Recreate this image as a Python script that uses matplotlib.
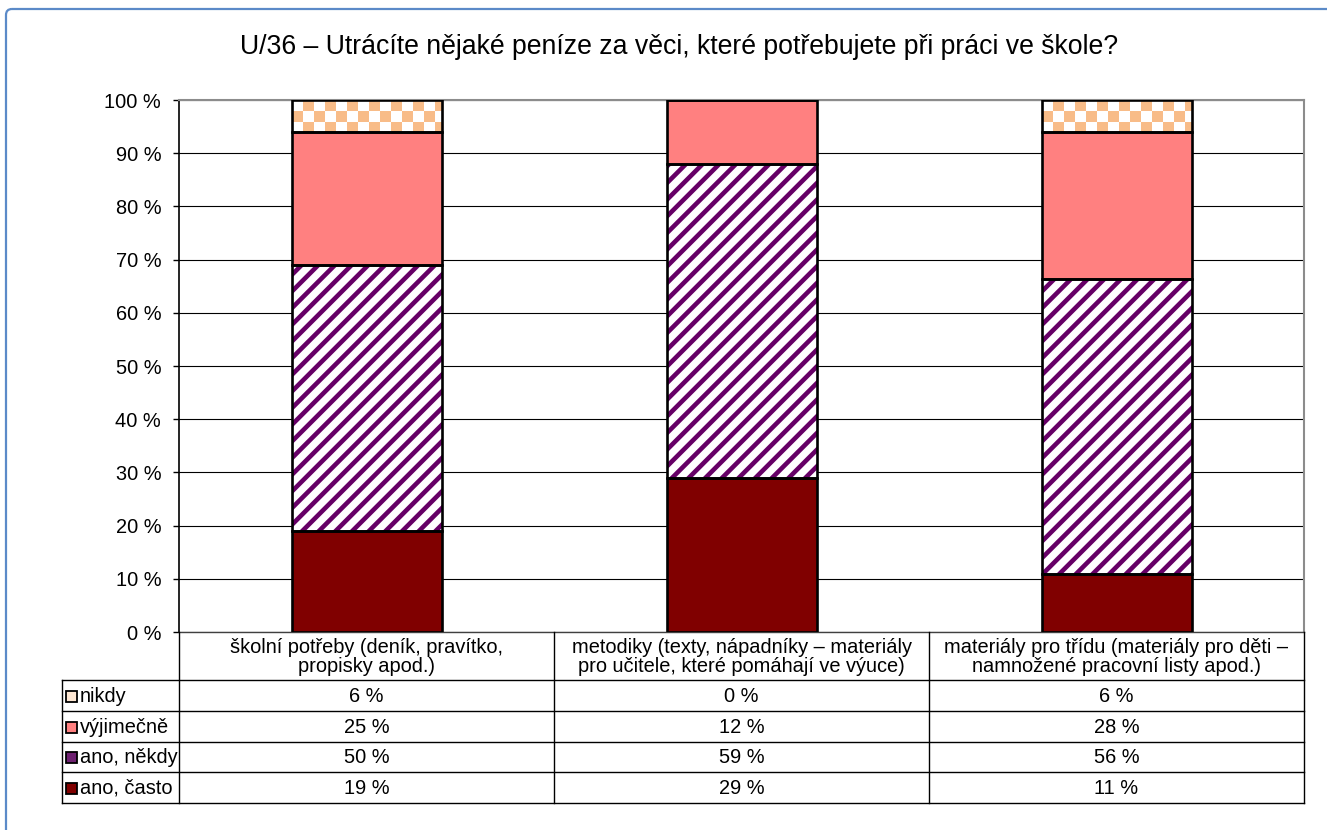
import numpy as np
import matplotlib
matplotlib.use("Agg")
import matplotlib.pyplot as plt
from matplotlib.patches import Rectangle, FancyBboxPatch
from matplotlib.lines import Line2D

plt.rcParams['font.family'] = ['Liberation Sans', 'DejaVu Sans']
plt.rcParams['hatch.linewidth'] = 3.3

# ---- data -------------------------------------------------------------
title = "U/36 – Utrácíte nějaké peníze za věci, které potřebujete při práci ve škole?"
categories = [
    "školní potřeby (deník, pravítko,\npropisky apod.)",
    "metodiky (texty, nápadníky – materiály\npro učitele, které pomáhají ve výuce)",
    "materiály pro třídu (materiály pro děti –\nnamnožené pracovní listy apod.)",
]
series_names = ["ano, často", "ano, někdy", "výjimečně", "nikdy"]
ano_casto = [19, 29, 11]
ano_nekdy = [50, 59, 56]
vyjimecne = [25, 12, 28]
nikdy = [6, 0, 6]
ytick_values = list(range(0, 101, 10))

# ---- layout (pixels) --------------------------------------------------
W, H = 1327, 830
PLOT_L, PLOT_R, PLOT_T, PLOT_B = 179, 1304, 100, 632
HEADER_B = 680
ROW_EDGES = [680, 711, 742, 772, 803]
LEGEND_L = 62
FS = 14.4

DARK_RED = "#800000"
PURPLE = "#660066"
SALMON = "#FF8080"
CHECK = "#F8BC88"

series_values = [ano_casto, ano_nekdy, vyjimecne, nikdy]
vals = np.array(series_values, dtype=float)
pct = vals / vals.sum(axis=0) * 100.0          # 100 % stacked
bottoms = np.vstack([np.zeros(pct.shape[1]), np.cumsum(pct, axis=0)[:-1]])

fig = plt.figure(figsize=(W / 100, H / 100), dpi=100)
fig.patch.set_facecolor("white")

ax = fig.add_axes([PLOT_L / W, 1 - PLOT_B / H, (PLOT_R - PLOT_L) / W, (PLOT_B - PLOT_T) / H])
x = np.arange(len(categories))
bw = 0.4

# fills
ax.bar(x, pct[0], bw, bottom=bottoms[0], color=DARK_RED, linewidth=0, zorder=1)
ax.bar(x, pct[1], bw, bottom=bottoms[1], facecolor="white", edgecolor=PURPLE,
       hatch="//", linewidth=0, zorder=1)
ax.bar(x, pct[2], bw, bottom=bottoms[2], color=SALMON, linewidth=0, zorder=1)
top_bars = ax.bar(x, pct[3], bw, bottom=bottoms[3], color="white", linewidth=0, zorder=1)

ax.set_xlim(-0.5, len(categories) - 0.5)
ax.set_ylim(0, 100)

# checkerboard fill for the "nikdy" segments
sq = 11.0
rgb_a = np.array(matplotlib.colors.to_rgb(CHECK))
rgb_b = np.array([1.0, 1.0, 1.0])
for patch in top_bars:
    if patch.get_height() <= 0:
        continue
    x0, y0 = patch.get_x(), patch.get_y()
    x1, y1 = x0 + patch.get_width(), y0 + patch.get_height()
    (px0, py0), (px1, py1) = ax.transData.transform([(x0, y0), (x1, y1)])
    ncol = int(np.ceil((px1 - px0) / sq))
    nrow = int(np.ceil((py1 - py0) / sq))
    ii, jj = np.mgrid[0:nrow, 0:ncol]
    img = np.where(((ii + jj) % 2 == 1)[..., None], rgb_a, rgb_b)
    dx = sq * (x1 - x0) / (px1 - px0)
    dy = sq * (y1 - y0) / (py1 - py0)
    im = ax.imshow(img, extent=(x0, x0 + ncol * dx, y1 - nrow * dy, y1),
                   origin="upper", interpolation="nearest", aspect="auto", zorder=1.5)
    im.set_clip_path(patch)

# outlines
for k in range(len(series_values)):
    ax.bar(x, pct[k], bw, bottom=bottoms[k], fill=False, edgecolor="black",
           linewidth=1.9, zorder=3)

ax.set_xlim(-0.5, len(categories) - 0.5)
ax.set_ylim(0, 100)
ax.set_yticks(ytick_values)
ax.set_yticklabels([f"{v} %" for v in ytick_values], fontsize=FS)
ax.set_xticks([])
ax.tick_params(axis="y", length=4.3, width=1, pad=8.5, color="black")
ax.yaxis.grid(True, color="black", linewidth=0.8)
ax.set_axisbelow(True)
ax.spines["left"].set_color("black")
ax.spines["left"].set_linewidth(1.2)
ax.spines["bottom"].set_color("#404040")
ax.spines["bottom"].set_linewidth(1.0)
for s in ("top", "right"):
    ax.spines[s].set_color("#8C8C8C")
    ax.spines[s].set_linewidth(1.5)

# ---- data table under the chart --------------------------------------
tab = fig.add_axes([0, 0, 1, 1], zorder=5)
tab.set_xlim(0, W)
tab.set_ylim(H, 0)
tab.axis("off")
tab.patch.set_alpha(0)

col_edges = [ax.transData.transform((c, 0))[0] for c in np.arange(len(categories) + 1) - 0.5]
col_centers = [ax.transData.transform((c, 0))[0] for c in x]

def hline(y, xa, xb, **kw):
    tab.add_line(Line2D([xa, xb], [y, y], color="black", linewidth=1.0, **kw))

def vline(xv, ya, yb, **kw):
    tab.add_line(Line2D([xv, xv], [ya, yb], color="black", linewidth=1.0, **kw))

for y in ROW_EDGES:
    hline(y, LEGEND_L, col_edges[-1])
vline(LEGEND_L, ROW_EDGES[0], ROW_EDGES[-1])
for ce in col_edges:
    vline(ce, PLOT_B, ROW_EDGES[-1])

for cx, lab in zip(col_centers, categories):
    tab.text(cx, (PLOT_B + HEADER_B) / 2 + 1, lab, ha="center", va="center",
             fontsize=FS, linespacing=1.05)

key_styles = {
    "nikdy": dict(facecolor="#FDE6D2"),
    "výjimečně": dict(facecolor=SALMON),
    "ano, někdy": dict(facecolor="#6E2070"),
    "ano, často": dict(facecolor=DARK_RED),
}
row_order = list(range(len(series_names)))[::-1]
for r, k in enumerate(row_order):
    yc = (ROW_EDGES[r] + ROW_EDGES[r + 1]) / 2
    name = series_names[k]
    tab.add_patch(Rectangle((66, yc - 5), 11, 11, edgecolor="black", linewidth=1.3,
                            **key_styles[name]))
    tab.text(80, yc + 0.5, name, ha="left", va="center", fontsize=FS)
    for cx, v in zip(col_centers, series_values[k]):
        tab.text(cx, yc + 0.5, f"{v} %", ha="center", va="center", fontsize=FS)

# title and frame
tab.text(679, 47, title, ha="center", va="center", fontsize=19.2)
tab.add_patch(FancyBboxPatch((6, 9), 1360, 860, boxstyle="round,pad=0,rounding_size=6",
                             fill=False, edgecolor="#5B8AC8", linewidth=1.6))

fig.savefig("out.png", dpi=100, facecolor="white")
